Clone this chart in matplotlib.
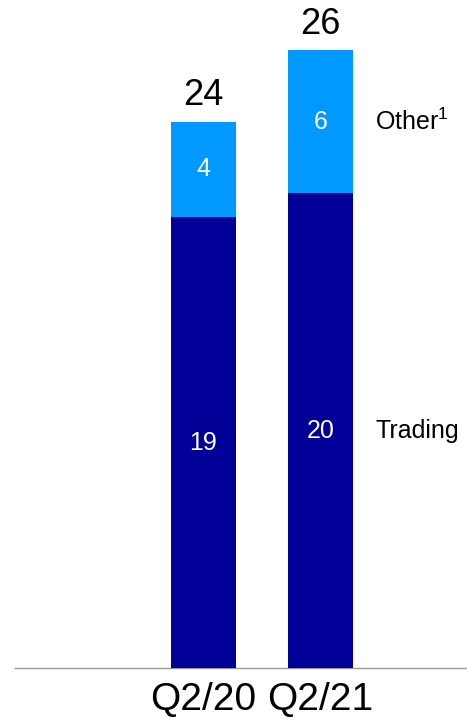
import matplotlib
matplotlib.use("Agg")
import matplotlib.pyplot as plt
import numpy as np

plt.rcParams['font.family'] = ['Liberation Sans', 'DejaVu Sans']
plt.rcParams['mathtext.fontset'] = 'custom'
plt.rcParams['mathtext.rm'] = 'Liberation Sans'

quarters = ['Q2/20', 'Q2/21']
trading = [19, 20]
other = [4, 6]
totals = [24, 26]
series_names = ['Trading', r'Other$^{\mathrm{1}}$']

dark_blue = '#000099'
light_blue = '#0099FF'

fig = plt.figure(figsize=(4.67, 7.23), dpi=100)
ax = fig.add_axes([0, 0.0754, 1, 0.9246])

x = np.arange(len(quarters))
width = 0.556

ax.bar(x, trading, width, color=dark_blue, zorder=3)
ax.bar(x, other, width, bottom=trading, color=light_blue, zorder=3)

# values inside the segments, totals on top
for i in range(len(x)):
    ax.text(x[i], trading[i] / 2, str(trading[i]), ha='center', va='center',
            color='white', fontsize=18)
    ax.text(x[i], trading[i] + other[i] / 2, str(other[i]), ha='center', va='center',
            color='white', fontsize=18)
    ax.annotate(str(totals[i]), (x[i], trading[i] + other[i]), xytext=(0, 6),
                textcoords='offset points', ha='center', va='bottom',
                fontsize=26, color='black')

# series names to the right of the last bar
last = len(x) - 1
ax.text(x[last] + width / 2 + 0.19, trading[last] / 2, series_names[0],
        ha='left', va='center', fontsize=18)
ax.text(x[last] + width / 2 + 0.19, trading[last] + other[last] / 2, series_names[1],
        ha='left', va='center', fontsize=18)

ax.set_xlim(-1.739, 2.252)
ax.set_ylim(0, 28.12)
for s in ['top', 'right', 'left']:
    ax.spines[s].set_visible(False)
ax.spines['bottom'].set_color('#999999')
ax.spines['bottom'].set_linewidth(1)
ax.spines['bottom'].set_bounds(-1.611, 2.252)
ax.set_yticks([])
ax.set_xticks(x)
ax.set_xticklabels(quarters, fontsize=28)
ax.tick_params(axis='x', length=0, pad=10)

fig.savefig('out.png', dpi=100)
